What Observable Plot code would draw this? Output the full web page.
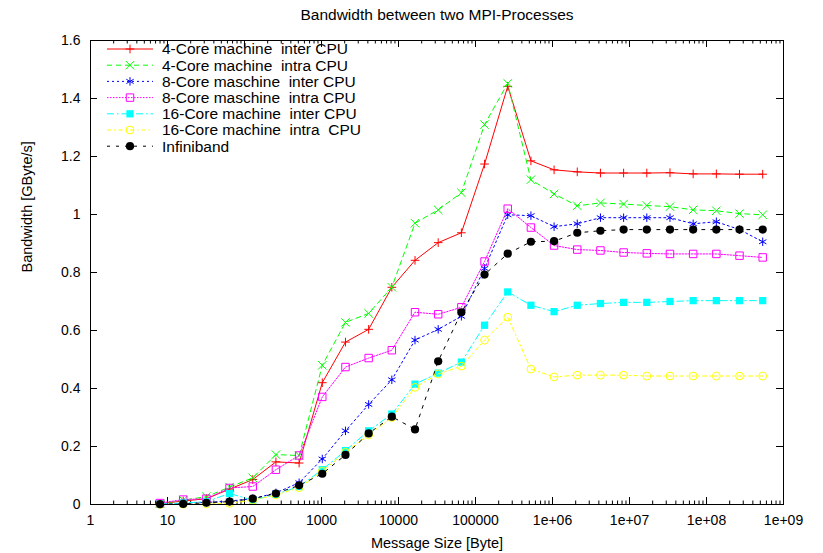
<!DOCTYPE html>
<html><head><meta charset="utf-8">
<script src="https://cdn.jsdelivr.net/npm/d3@7"></script>
<script src="https://cdn.jsdelivr.net/npm/@observablehq/plot@0.6"></script>
<style>body{margin:0;background:#fff} svg{display:block}</style>
</head><body><div id="chart"></div>
<script>
// ---- data ----
const messageSizes = [8,16,32,64,128,256,512,1024,2048,4096,8192,16384,32768,65536,131072,262144,524288,1048576,2097152,4194304,8388608,16777216,33554432,67108864,134217728,268435456,536870912];
const core4Inter  = [0.003,0.012,0.020,0.053,0.086,0.147,0.143,0.420,0.560,0.604,0.749,0.842,0.903,0.937,1.174,1.442,1.185,1.154,1.147,1.143,1.143,1.143,1.144,1.140,1.140,1.139,1.139];
const core4Intra  = [0.003,0.015,0.027,0.060,0.092,0.172,0.169,0.480,0.628,0.659,0.749,0.970,1.016,1.075,1.310,1.452,1.120,1.071,1.030,1.040,1.036,1.031,1.027,1.016,1.013,1.003,0.999];
const core8Inter  = [0.002,0.004,0.007,0.012,0.020,0.040,0.075,0.157,0.254,0.345,0.430,0.567,0.604,0.649,0.814,0.999,0.996,0.958,0.968,0.989,0.989,0.989,0.989,0.968,0.975,0.948,0.906];
const core8Intra  = [0.005,0.017,0.020,0.057,0.062,0.120,0.169,0.371,0.474,0.505,0.532,0.663,0.656,0.680,0.838,1.020,0.955,0.893,0.879,0.876,0.869,0.866,0.864,0.864,0.864,0.858,0.852];
const core16Inter = [0.002,0.005,0.010,0.038,0.015,0.035,0.062,0.120,0.186,0.254,0.312,0.415,0.453,0.491,0.618,0.733,0.687,0.665,0.687,0.693,0.697,0.697,0.700,0.703,0.703,0.703,0.703];
const core16Intra = [0.000,0.001,0.002,0.004,0.015,0.033,0.058,0.115,0.180,0.240,0.300,0.404,0.450,0.477,0.567,0.646,0.467,0.440,0.446,0.446,0.446,0.443,0.443,0.443,0.443,0.443,0.443];
const infiniband  = [0.001,0.002,0.006,0.010,0.020,0.038,0.066,0.106,0.171,0.245,0.303,0.259,0.494,0.663,0.793,0.865,0.906,0.908,0.937,0.944,0.948,0.948,0.948,0.948,0.948,0.948,0.948];

const seriesNames = ["4-Core machine  inter CPU","4-Core machine  intra CPU","8-Core maschine  inter CPU","8-Core maschine  intra CPU","16-Core machine  inter CPU","16-Core machine  intra  CPU","Infiniband"];
const seriesValues = [core4Inter, core4Intra, core8Inter, core8Intra, core16Inter, core16Intra, infiniband];

const xTicks = [1,10,100,1000,10000,100000,1e6,1e7,1e8,1e9];
const xTickLabels = ["1","10","100","1000","10000","100000","1e+06","1e+07","1e+08","1e+09"];
const yTicks = [0,0.2,0.4,0.6,0.8,1,1.2,1.4,1.6];
const yTickLabels = ["0","0.2","0.4","0.6","0.8","1","1.2","1.4","1.6"];
const chartTitle = "Bandwidth between two MPI-Processes";
const xLabel = "Message Size [Byte]";
const yLabel = "Bandwidth [GByte/s]";

// ---- styles ----
const styles = [
  {color:"#ff0000", dash:null,      symbol:"plus",     r:2.9, filled:false},
  {color:"#00ff00", dash:"5,4",     symbol:"times",    r:3.9, filled:false},
  {color:"#0000ff", dash:"2,3",     symbol:"asterisk", r:4.0, filled:false},
  {color:"#ff00ff", dash:"1.5,1.5", symbol:"square",   r:4.2, filled:false},
  {color:"#00ffff", dash:"7,3,1.5,3", symbol:"square", r:4.1, filled:true},
  {color:"#ffff00", dash:"4,3,1.5,3", symbol:"circle", r:3.9, filled:false},
  {color:"#000000", dash:"3,6",     symbol:"circle",   r:4.1, filled:true}
];

const W = 823, H = 553, mL = 90, mR = 40, mT = 40, mB = 49;
const frameW = W - mL - mR, frameH = H - mT - mB;
const font = "'Liberation Sans', Arial, Helvetica, sans-serif";
const fs = 14;
const fsBig = 15.5;

const xMinor = [];
for (let i = 0; i < xTicks.length - 1; i++) for (let m = 2; m <= 9; m++) xMinor.push(xTicks[i] * m);
const majorLen = 7, minorLen = 3.5;

const marks = [];
// ticks (inward, mirrored)
marks.push(Plot.ruleX(xMinor, {x: d => d, insetTop: frameH - minorLen, stroke: "black", strokeWidth: 1}));
marks.push(Plot.ruleX(xMinor, {x: d => d, insetBottom: frameH - minorLen, stroke: "black", strokeWidth: 1}));
marks.push(Plot.ruleX(xTicks, {x: d => d, insetTop: frameH - majorLen, stroke: "black", strokeWidth: 1}));
marks.push(Plot.ruleX(xTicks, {x: d => d, insetBottom: frameH - majorLen, stroke: "black", strokeWidth: 1}));
marks.push(Plot.ruleY(yTicks, {y: d => d, insetRight: frameW - majorLen, stroke: "black", strokeWidth: 1}));
marks.push(Plot.ruleY(yTicks, {y: d => d, insetLeft: frameW - majorLen, stroke: "black", strokeWidth: 1}));

// series
seriesValues.forEach((vals, s) => {
  const st = styles[s];
  const data = messageSizes.map((x, i) => ({x, y: vals[i]}));
  marks.push(Plot.line(data, {x: "x", y: "y", stroke: st.color, strokeWidth: 1, strokeDasharray: st.dash ?? undefined}));
  marks.push(Plot.dot(data, {x: "x", y: "y", symbol: st.symbol, r: st.r,
    stroke: st.filled ? "none" : st.color, fill: st.filled ? st.color : "none", strokeWidth: 1}));
});

marks.push(Plot.frame({stroke: "black", strokeWidth: 1}));
marks.push(Plot.axisX(xTicks, {tickSize: 0, tickPadding: 11, tickFormat: d => xTickLabels[xTicks.indexOf(d)], label: null, fontSize: fs}));
marks.push(Plot.axisY(yTicks, {tickSize: 0, tickPadding: 10, tickFormat: d => yTickLabels[yTicks.indexOf(d)], label: null, fontSize: fs}));
marks.push(Plot.text([chartTitle], {text: d => d, frameAnchor: "top", dy: -32, fontSize: fsBig}));
marks.push(Plot.text([xLabel], {text: d => d, frameAnchor: "bottom", dy: 43, fontSize: 14.5}));
marks.push(Plot.text([yLabel], {text: d => d, frameAnchor: "left", dx: -63, rotate: -90, fontSize: 14.5}));

const chart = Plot.plot({
  width: W, height: H,
  marginLeft: mL, marginRight: mR, marginTop: mT, marginBottom: mB,
  style: {fontFamily: font, fontSize: fs + "px", background: "#fff", color: "black"},
  x: {type: "log", domain: [1, 1e9], axis: null},
  y: {domain: [0, 1.6], axis: null},
  marks
});
document.getElementById("chart").appendChild(chart);

// ---- legend (inside frame, top-left) ----
const symMap = {plus: d3.symbolPlus, times: d3.symbolTimes, asterisk: d3.symbolAsterisk, square: d3.symbolSquare, circle: d3.symbolCircle};
const svg = d3.select(chart);
const lg = svg.append("g").attr("font-family", font).attr("font-size", fsBig).attr("text-anchor", "start");
const lx0 = mL + 17, lx1 = mL + 63, lmx = mL + 40, ltx = mL + 72, ly0 = mT + 9, lstep = 16.2;
seriesNames.forEach((name, i) => {
  const st = styles[i];
  const y = ly0 + i * lstep;
  lg.append("line").attr("x1", lx0).attr("x2", lx1).attr("y1", y).attr("y2", y)
    .attr("stroke", st.color).attr("stroke-width", 1).attr("stroke-dasharray", st.dash);
  lg.append("path").attr("transform", `translate(${lmx},${y})`)
    .attr("d", d3.symbol(symMap[st.symbol], Math.PI * st.r * st.r)())
    .attr("stroke", st.filled ? "none" : st.color).attr("fill", st.filled ? st.color : "none").attr("stroke-width", 1);
  lg.append("text").attr("x", ltx).attr("y", y).attr("dy", "0.35em").attr("fill", "black").attr("text-anchor", "start").text(name);
});
</script></body></html>
